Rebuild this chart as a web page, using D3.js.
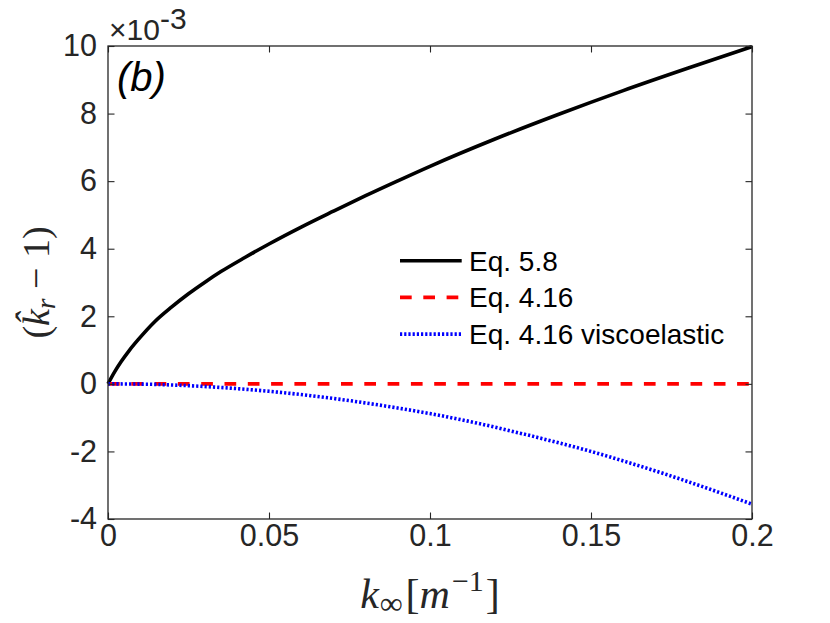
<!DOCTYPE html>
<html>
<head>
<meta charset="utf-8">
<script src="https://cdn.jsdelivr.net/npm/d3@7"></script>
<style>
  body { margin: 0; background: #fff; }
  svg { display: block; }
</style>
</head>
<body>
<script>
// k_inf values and curves (y in units of 1e-3)
const kBlack = [0, 0.0021, 0.0041, 0.0067, 0.0093, 0.0145, 0.0197, 0.0249, 0.0301, 0.0352, 0.0425, 0.05, 0.06, 0.07, 0.08, 0.09, 0.1, 0.12, 0.14, 0.16, 0.18, 0.2];
const eq58   = [0, 0.36, 0.66, 1.0, 1.3, 1.84, 2.27, 2.66, 3.01, 3.33, 3.74, 4.14, 4.64, 5.11, 5.57, 6.01, 6.44, 7.24, 7.98, 8.68, 9.34, 9.98];

const kRed  = [0, 0.2];
const eq416 = [0, 0];

const kBlue   = [0, 0.012, 0.024, 0.037, 0.05, 0.063, 0.076, 0.089, 0.1, 0.115, 0.128, 0.141, 0.15, 0.161, 0.174, 0.187, 0.2];
const eq416ve = [0, -0.01, -0.05, -0.12, -0.22, -0.35, -0.51, -0.70, -0.88, -1.17, -1.46, -1.77, -2.0, -2.31, -2.7, -3.12, -3.56];

const xTicks = [0, 0.05, 0.1, 0.15, 0.2];
const xTickLabels = ['0', '0.05', '0.1', '0.15', '0.2'];
const yTicks = [-4, -2, 0, 2, 4, 6, 8, 10];
const yTickLabels = ['-4', '-2', '0', '2', '4', '6', '8', '10'];

const legendNames = ['Eq. 5.8', 'Eq. 4.16', 'Eq. 4.16 viscoelastic'];

const width = 830, height = 623;
const margin = {top: 46, right: 78, bottom: 104, left: 108};
const axisColor = '#262626';
const sans = '"Liberation Sans", Arial, Helvetica, sans-serif';
const serif = '"Liberation Serif", "Times New Roman", serif';

const xScale = d3.scaleLinear().domain([0, 0.2]).range([margin.left, width - margin.right]);
const yScale = d3.scaleLinear().domain([-4, 10]).range([height - margin.bottom, margin.top]);

const svg = d3.select('body').append('svg')
  .attr('width', width)
  .attr('height', height);

// curves
const series = [
  {x: kBlack, y: eq58, color: '#000000', dash: null},
  {x: kRed, y: eq416, color: '#ff0000', dash: '11.7,11.6'},
  {x: kBlue, y: eq416ve, color: '#0000ff', dash: '2.2,2'}
];

const line = d3.line()
  .x(d => xScale(d[0]))
  .y(d => yScale(d[1]))
  .curve(d3.curveMonotoneX);

svg.append('g')
  .selectAll('path')
  .data(series)
  .join('path')
  .attr('d', s => line(s.x.map((v, i) => [v, s.y[i]])))
  .attr('fill', 'none')
  .attr('stroke', s => s.color)
  .attr('stroke-width', 3.6)
  .attr('stroke-dasharray', s => s.dash);

// axes, MATLAB-like inward ticks on all four sides
const tick = 6.5;
const xAxis = d3.axisBottom(xScale).tickValues(xTicks)
  .tickFormat((d, i) => xTickLabels[i]).tickSizeInner(-tick).tickSizeOuter(0).tickPadding(5);
const yAxis = d3.axisLeft(yScale).tickValues(yTicks)
  .tickFormat((d, i) => yTickLabels[i]).tickSizeInner(-tick).tickSizeOuter(0).tickPadding(11);

svg.append('g')
  .attr('transform', `translate(0,${height - margin.bottom})`)
  .call(xAxis);
svg.append('g')
  .attr('transform', `translate(${margin.left},0)`)
  .call(yAxis);
svg.append('g')
  .attr('transform', `translate(0,${margin.top})`)
  .call(d3.axisTop(xScale).tickValues(xTicks).tickSizeInner(-tick).tickSizeOuter(0).tickFormat(''));
svg.append('g')
  .attr('transform', `translate(${width - margin.right},0)`)
  .call(d3.axisRight(yScale).tickValues(yTicks).tickSizeInner(-tick).tickSizeOuter(0).tickFormat(''));

svg.selectAll('.domain').remove();
svg.selectAll('.tick line').attr('stroke', axisColor).attr('stroke-width', 1.1);
svg.selectAll('.tick text')
  .attr('fill', axisColor)
  .style('font-family', sans)
  .style('font-size', '30.5px');

// frame
svg.append('rect')
  .attr('x', margin.left)
  .attr('y', margin.top)
  .attr('width', width - margin.left - margin.right)
  .attr('height', height - margin.top - margin.bottom)
  .attr('fill', 'none')
  .attr('stroke', axisColor)
  .attr('stroke-width', 1.3);

// exponent label
const ex = svg.append('text')
  .attr('x', margin.left + 1)
  .attr('y', 40)
  .attr('fill', axisColor)
  .style('font-family', sans)
  .style('font-size', '30px');
ex.append('tspan').text('\u00d710');
ex.append('tspan').attr('dy', -11).text('-3');

// panel label
svg.append('text')
  .attr('x', 117)
  .attr('y', 91)
  .attr('fill', '#000')
  .style('font-family', sans)
  .style('font-style', 'italic')
  .style('font-size', '40px')
  .text('(b)');

// legend
const legend = svg.append('g');
series.forEach((s, i) => {
  const y = 260.7 + i * 36.7;
  legend.append('line')
    .attr('x1', 400).attr('x2', 461.7)
    .attr('y1', y).attr('y2', y)
    .attr('stroke', s.color)
    .attr('stroke-width', 3.6)
    .attr('stroke-dasharray', s.dash);
  legend.append('text')
    .attr('x', 469)
    .attr('y', y)
    .attr('dy', '0.36em')
    .attr('fill', '#000')
    .style('font-family', sans)
    .style('font-size', '28px')
    .text(legendNames[i]);
});

// x label: k_inf [m^-1]
const xl = svg.append('text')
  .attr('x', (xScale.range()[0] + xScale.range()[1]) / 2)
  .attr('y', 608)
  .attr('text-anchor', 'middle')
  .attr('fill', axisColor)
  .style('font-family', serif)
  .style('font-size', '42px');
xl.append('tspan').style('font-style', 'italic').text('k');
xl.append('tspan').attr('dy', 6).attr('dx', 1).style('font-size', '32px').text('\u221e');
xl.append('tspan').attr('dy', -6).attr('dx', 3).text('[');
xl.append('tspan').style('font-style', 'italic').text('m');
xl.append('tspan').attr('dy', -17).attr('dx', 2).style('font-size', '30px').text('\u22121');
xl.append('tspan').attr('dy', 17).attr('dx', 2).text(']');

// y label: (k-hat_r - 1)
const yl = svg.append('text')
  .attr('transform', `translate(49,${(yScale.range()[0] + yScale.range()[1]) / 2}) rotate(-90)`)
  .attr('text-anchor', 'middle')
  .attr('fill', axisColor)
  .style('font-family', serif)
  .style('font-size', '38px');
yl.append('tspan').text('(');
yl.append('tspan').style('font-style', 'italic').text('k\u0302');
yl.append('tspan').attr('dy', 6).style('font-style', 'italic').style('font-size', '27px').text('r');
yl.append('tspan').attr('dy', -6).text(' \u2212 1)');
</script>
</body>
</html>
